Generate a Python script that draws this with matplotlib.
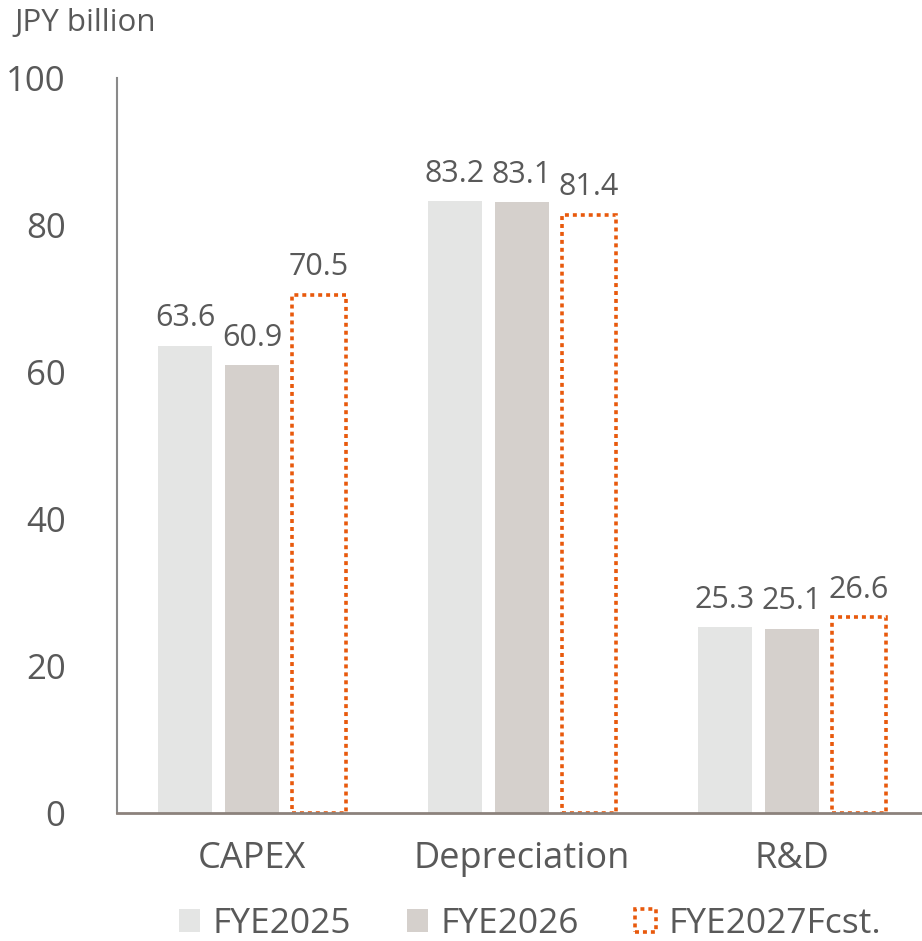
import matplotlib
matplotlib.use("Agg")
import matplotlib.pyplot as plt
import numpy as np
from matplotlib.patches import Patch

plt.rcParams['font.family'] = ['Open Sans', 'DejaVu Sans']

categories = ["CAPEX", "Depreciation", "R&D"]
series_names = ["FYE2025", "FYE2026", "FYE2027Fcst."]
fye2025 = [63.6, 83.2, 25.3]
fye2026 = [60.9, 83.1, 25.1]
fye2027_fcst = [70.5, 81.4, 26.6]
y_ticks = [0, 20, 40, 60, 80, 100]
unit_label = "JPY billion"

text_color = "#595959"
c2025 = "#e4e5e4"
c2026 = "#d5d0cc"
c_fcst = "#e8590c"
dotted = (0, (1.1, 1.1))

W, H = 922, 941
fig = plt.figure(figsize=(W / 100, H / 100), dpi=100)
ax = fig.add_axes([117 / W, (H - 813) / H, 810 / W, 735 / H])

x = np.arange(len(categories))
width = 0.197
pitch = 0.248

b1 = ax.bar(x - pitch, fye2025, width, color=c2025, edgecolor="none")
b2 = ax.bar(x, fye2026, width, color=c2026, edgecolor="none")
b3 = ax.bar(x + pitch, fye2027_fcst, width, facecolor="white",
            edgecolor=c_fcst, linewidth=2.6, linestyle=dotted)

for bars, vals in [(b1, fye2025), (b2, fye2026), (b3, fye2027_fcst)]:
    for rect, v in zip(bars, vals):
        ax.annotate(f"{v:.1f}", (rect.get_x() + rect.get_width() / 2, v),
                    xytext=(0, 9), textcoords="offset points",
                    ha="center", va="bottom", fontsize=22, color=text_color)

ax.set_xlim(-0.5, 2.5)
ax.set_ylim(0, 100)
ax.set_yticks(y_ticks)
ax.set_xticks(x)
ax.set_xticklabels(categories)
ax.tick_params(axis="y", length=0, pad=37, labelsize=25, labelcolor=text_color)
ax.tick_params(axis="x", length=0, pad=20, labelsize=26, labelcolor=text_color)

for s in ["top", "right"]:
    ax.spines[s].set_visible(False)
ax.spines["left"].set_color("#8a8a8a")
ax.spines["left"].set_linewidth(1.5)
ax.spines["bottom"].set_color("#8c827c")
ax.spines["bottom"].set_linewidth(2)

fig.text(14 / W, 1 - 23 / H, unit_label, ha="left", va="center",
         fontsize=22.5, color=text_color)

handles = [
    Patch(facecolor=c2025, edgecolor="none"),
    Patch(facecolor=c2026, edgecolor="none"),
    Patch(facecolor="white", edgecolor=c_fcst, linewidth=2.6,
          linestyle=dotted),
]
leg = fig.legend(handles, series_names, loc="center", ncol=3,
                 bbox_to_anchor=(0.575, (H - 924) / H), frameon=False,
                 fontsize=25.5, labelcolor=text_color, handlelength=0.59,
                 handleheight=0.59, handletextpad=0.34, columnspacing=1.6,
                 borderpad=0.1)

fig.savefig("out.png", dpi=100)
